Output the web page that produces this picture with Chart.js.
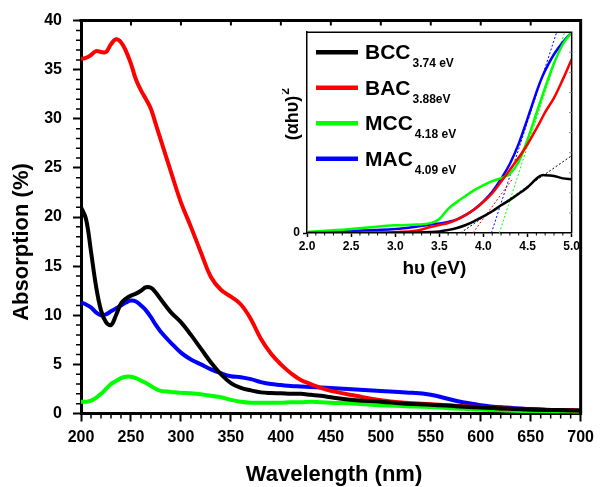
<!DOCTYPE html>
<html>
<head>
<meta charset="utf-8">
<script src="https://cdn.jsdelivr.net/npm/chart.js@4.4.0/dist/chart.umd.min.js"></script>
<style>
  html, body { margin: 0; padding: 0; background: #fff; overflow: hidden; }
  #wrap { position: relative; width: 600px; height: 487px; }
  #main { position: absolute; left: 0; top: 0; }
  #inset { position: absolute; left: 282px; top: 22px; }
</style>
</head>
<body>
<div id="wrap">
  <canvas id="main" width="600" height="487"></canvas>
  <canvas id="inset" width="300" height="262"></canvas>
</div>
<script>
// ---- data: UV-vis absorption (main plot) ----
const seriesNames = ['BCC', 'BAC', 'MCC', 'MAC'];
const seriesColors = ['#000000', '#ff0000', '#00ff00', '#0000ff'];

const wavelength = [200, 205, 210, 215, 220, 225, 230, 235, 240, 245, 250, 255, 260, 265, 270, 275, 280,
  290, 300, 310, 320, 330, 340, 350, 360, 370, 380, 390, 400, 410, 420, 430, 440, 450,
  475, 500, 525, 550, 575, 600, 625, 650, 675, 700];

const bccAbs = [21.0, 19.8, 16.5, 13.0, 10.5, 9.3, 9.0, 10.0, 11.2, 11.7, 12.0, 12.2, 12.5, 12.85, 12.8, 12.3, 11.6,
  10.3, 9.3, 8.0, 6.6, 5.2, 4.0, 3.1, 2.6, 2.35, 2.15, 2.08, 2.05, 2.0, 2.0, 1.9, 1.8, 1.65,
  1.35, 1.2, 1.0, 0.9, 0.75, 0.6, 0.5, 0.4, 0.35, 0.3];
const bacAbs = [36.1, 36.2, 36.5, 36.9, 36.8, 36.8, 37.6, 38.1, 37.8, 36.9, 35.6, 34.0, 32.9, 32.0, 31.0, 29.4, 27.8,
  24.6, 21.5, 19.0, 16.4, 13.9, 12.6, 11.9, 11.1, 9.6, 7.6, 6.1, 5.0, 4.1, 3.4, 3.0, 2.6, 2.3,
  1.8, 1.35, 1.1, 0.95, 0.8, 0.65, 0.5, 0.4, 0.35, 0.3];
const mccAbs = [1.2, 1.2, 1.3, 1.6, 2.0, 2.5, 3.0, 3.3, 3.6, 3.75, 3.75, 3.6, 3.35, 3.1, 2.8, 2.5, 2.3,
  2.2, 2.1, 2.05, 1.95, 1.8, 1.65, 1.4, 1.2, 1.1, 1.1, 1.1, 1.1, 1.15, 1.15, 1.2, 1.15, 1.1,
  1.0, 0.85, 0.75, 0.65, 0.5, 0.4, 0.3, 0.25, 0.2, 0.15];
const macAbs = [11.3, 11.1, 10.8, 10.3, 10.0, 10.1, 10.4, 10.7, 11.0, 11.3, 11.5, 11.4, 11.0, 10.5, 9.8, 9.0, 8.3,
  7.2, 6.2, 5.5, 5.0, 4.5, 4.1, 3.8, 3.7, 3.5, 3.2, 3.0, 2.9, 2.8, 2.75, 2.7, 2.65, 2.6,
  2.45, 2.3, 2.15, 1.9, 1.3, 0.85, 0.6, 0.45, 0.35, 0.25];

// ---- data: Tauc plot (inset) ----
const energy = [2.0, 2.25, 2.5, 2.75, 3.0, 3.25, 3.4, 3.5, 3.6, 3.7, 3.8, 3.9, 4.0, 4.1, 4.2, 4.3, 4.4, 4.5, 4.6, 4.65, 4.7, 4.8, 4.9, 5.0];
const bccTauc = [0, 0, 0, 0, 0.1, 0.3, 0.5, 0.8, 1.5, 2.5, 4.0, 6.0, 8.3, 10.8, 13.8, 16.5, 19.5, 22.8, 27.0, 28.6, 28.8, 28.4, 27.2, 26.8];
const bacTauc = [0, 0, 0.1, 0.2, 0.4, 1.3, 3.0, 4.0, 5.0, 6.7, 9.0, 11.8, 15.5, 19.8, 25.5, 31.5, 37.6, 44.2, 52.0, 56.0, 60.2, 67.3, 76.5, 86.5];
const mccTauc = [0.5, 1.2, 2.0, 3.0, 3.8, 4.2, 4.9, 7.0, 12.0, 15.5, 18.5, 21.5, 23.8, 25.8, 27.3, 29.5, 35.5, 46.5, 59.5, 66.0, 72.5, 84.5, 94.0, 100];
const macTauc = [0.3, 0.5, 1.0, 1.5, 2.0, 3.2, 4.2, 4.7, 5.5, 6.8, 9.0, 12.0, 15.8, 20.5, 27.0, 34.5, 44.5, 57.0, 70.0, 76.0, 81.0, 89.0, 95.0, 100];

// band gaps and linear fit end points
const gapLabels = ['3.74 eV', '3.88eV', '4.18 eV', '4.09 eV'];
const gapEnergy = [3.74, 3.88, 4.18, 4.09];
const fitEndEnergy = [5.0, 4.33, 4.92, 4.83];
const fitEndValue = [38.5, 27, 100, 100];

const FONT = "'Liberation Sans', Arial, Helvetica, sans-serif";

const toPoints = (xs, ys) => xs.map((x, i) => ({ x: x, y: ys[i] }));

// ---- main chart decorations: frame, minor ticks, titles ----
const mainDecor = {
  id: 'mainDecor',
  afterDraw(chart) {
    const { ctx, chartArea: a, scales: { x, y } } = chart;
    ctx.save();
    ctx.strokeStyle = '#000';
    ctx.lineWidth = 3;
    ctx.beginPath();
    ctx.moveTo(a.left - 1.5, a.top);
    ctx.lineTo(a.right, a.top);
    ctx.lineTo(a.right, a.bottom + 1.5);
    ctx.stroke();

    ctx.lineWidth = 1.5;
    ctx.beginPath();
    for (let v = 200; v <= 700; v += 10) {
      if (v % 50 === 0) continue;
      const px = x.getPixelForValue(v);
      ctx.moveTo(px, a.bottom);
      ctx.lineTo(px, a.bottom + 5);
    }
    for (let v = 0; v <= 40; v += 1) {
      if (v % 5 === 0) continue;
      const py = y.getPixelForValue(v);
      ctx.moveTo(a.left, py);
      ctx.lineTo(a.left - 5, py);
    }
    ctx.stroke();

    // inward major ticks on the top axis
    ctx.lineWidth = 2;
    ctx.beginPath();
    for (let v = 250; v < 700; v += 50) {
      const px = x.getPixelForValue(v);
      ctx.moveTo(px, a.top);
      ctx.lineTo(px, a.top + 5);
    }
    ctx.stroke();

    ctx.fillStyle = '#000';
    ctx.font = 'bold 22px ' + FONT;
    ctx.textAlign = 'center';
    ctx.textBaseline = 'alphabetic';
    ctx.fillText('Wavelength (nm)', 334, 481);
    ctx.translate(28, 242);
    ctx.rotate(-Math.PI / 2);
    ctx.fillText('Absorption (%)', 0, 0);
    ctx.restore();
  }
};

new Chart(document.getElementById('main'), {
  type: 'line',
  data: {
    datasets: [bccAbs, bacAbs, mccAbs, macAbs].map((vals, i) => ({
      label: seriesNames[i],
      data: toPoints(wavelength, vals),
      borderColor: seriesColors[i],
      borderWidth: 4,
      pointRadius: 0,
      tension: 0.4,
      fill: false
    }))
  },
  options: {
    responsive: false,
    animation: false,
    events: [],
    layout: { padding: { top: 20, right: 16, left: 0, bottom: 0 } },
    plugins: { legend: { display: false }, tooltip: { enabled: false } },
    scales: {
      x: {
        type: 'linear', min: 200, max: 700,
        afterFit: s => { s.height = 73.5; },
        ticks: { stepSize: 50, maxRotation: 0, padding: 6, color: '#000', font: { family: FONT, size: 16, weight: 'bold' } },
        grid: { drawOnChartArea: false, tickLength: 8, tickWidth: 2, tickColor: '#000' },
        border: { width: 3, color: '#000' }
      },
      y: {
        type: 'linear', min: 0, max: 40,
        afterFit: s => { s.width = 81; },
        ticks: { stepSize: 5, padding: 11, color: '#000', font: { family: FONT, size: 16, weight: 'bold' } },
        grid: { drawOnChartArea: false, tickLength: 8, tickWidth: 2, tickColor: '#000' },
        border: { width: 3, color: '#000' }
      }
    }
  },
  plugins: [mainDecor]
});

// ---- inset decorations: frame, ticks, titles, legend ----
const insetDecor = {
  id: 'insetDecor',
  afterDraw(chart) {
    const { ctx, chartArea: a, scales: { x, y } } = chart;
    ctx.save();
    ctx.strokeStyle = '#000';
    ctx.lineWidth = 1.5;
    ctx.beginPath();
    ctx.moveTo(a.left, a.top);
    ctx.lineTo(a.right, a.top);
    ctx.lineTo(a.right, a.bottom);
    ctx.stroke();

    ctx.lineWidth = 1;
    ctx.beginPath();
    for (let i = 1; i < 30; i++) {
      if (i % 5 === 0) continue;
      const px = x.getPixelForValue(2 + i * 0.1);
      ctx.moveTo(px, a.bottom);
      ctx.lineTo(px, a.bottom + 2.5);
    }
    ctx.stroke();
    ctx.strokeStyle = '#888';
    ctx.beginPath();
    for (let v = 10; v < 100; v += 10) {
      const py = y.getPixelForValue(v);
      ctx.moveTo(a.right, py);
      ctx.lineTo(a.right - 2.5, py);
    }
    ctx.stroke();

    ctx.fillStyle = '#000';
    ctx.textAlign = 'center';
    ctx.textBaseline = 'alphabetic';
    ctx.font = 'bold 19px ' + FONT;
    ctx.fillText('hυ (eV)', (a.left + a.right) / 2 - 5, 252);

    ctx.save();
    ctx.translate(16, 92);
    ctx.rotate(-Math.PI / 2);
    ctx.font = 'bold 18px ' + FONT;
    const base = '(αhυ)';
    const w = ctx.measureText(base).width;
    ctx.textAlign = 'left';
    ctx.fillText(base, -w / 2 - 4, 0);
    ctx.font = 'bold 12px ' + FONT;
    ctx.fillText('2', w / 2 - 3, -9);
    ctx.restore();

    // legend with band-gap subscripts
    ctx.textAlign = 'left';
    for (let i = 0; i < seriesNames.length; i++) {
      const ly = a.top + 20 + i * 35.5;
      ctx.strokeStyle = seriesColors[i];
      ctx.lineWidth = 4.5;
      ctx.beginPath();
      ctx.moveTo(a.left + 9, ly);
      ctx.lineTo(a.left + 51, ly);
      ctx.stroke();
      ctx.font = 'bold 21px ' + FONT;
      ctx.fillText(seriesNames[i], a.left + 58, ly + 7);
      const tw = ctx.measureText(seriesNames[i]).width;
      ctx.font = 'bold 12px ' + FONT;
      ctx.fillText(gapLabels[i], a.left + 60 + tw, ly + 15);
    }
    ctx.restore();
  }
};

const insetCurves = [bccTauc, bacTauc, mccTauc, macTauc].map((vals, i) => ({
  label: seriesNames[i],
  data: toPoints(energy, vals),
  borderColor: seriesColors[i],
  borderWidth: 2.5,
  pointRadius: 0,
  tension: 0.4,
  fill: false
}));
const insetFits = gapEnergy.map((g, i) => ({
  label: seriesNames[i] + ' fit',
  data: [{ x: g, y: 0 }, { x: fitEndEnergy[i], y: fitEndValue[i] }],
  borderColor: seriesColors[i],
  borderWidth: 1,
  borderDash: [2, 2],
  pointRadius: 0,
  fill: false
}));

new Chart(document.getElementById('inset'), {
  type: 'line',
  data: { datasets: insetCurves.concat(insetFits) },
  options: {
    responsive: false,
    animation: false,
    events: [],
    layout: { padding: { top: 7, right: 10, left: 0, bottom: 0 } },
    plugins: { legend: { display: false }, tooltip: { enabled: false } },
    scales: {
      x: {
        type: 'linear', min: 2, max: 5,
        afterFit: s => { s.height = 51; },
        ticks: { stepSize: 0.5, maxRotation: 0, padding: 2, color: '#000', callback: v => v.toFixed(1), font: { family: FONT, size: 12, weight: 'bold' } },
        grid: { drawOnChartArea: false, tickLength: 4, tickWidth: 1.5, tickColor: '#000' },
        border: { width: 1.5, color: '#000' }
      },
      y: {
        type: 'linear', min: 0, max: 100,
        afterFit: s => { s.width = 25; },
        ticks: { stepSize: 100, padding: 3, color: '#000', callback: v => (v === 0 ? '0' : ''), font: { family: FONT, size: 12, weight: 'bold' } },
        grid: { drawOnChartArea: false, tickLength: 4, tickWidth: 1.5, tickColor: ctx => (ctx.tick && ctx.tick.value === 0 ? '#000' : 'rgba(0,0,0,0)') },
        border: { width: 1.5, color: '#000' }
      }
    }
  },
  plugins: [insetDecor]
});
</script>
</body>
</html>
